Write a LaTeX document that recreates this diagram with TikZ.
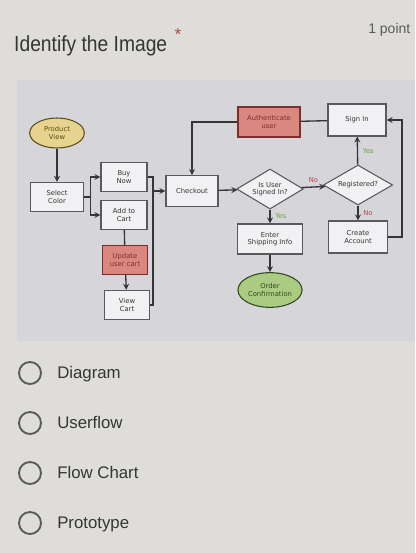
\documentclass[tikz,border=0pt]{standalone}
\usepackage{fontspec}
\setmainfont{Liberation Sans}
\newfontfamily\chartfont{DejaVu Sans}
\usetikzlibrary{positioning, shapes.geometric}

\definecolor{pagegray}{HTML}{DEDDDA}
\definecolor{shotgray}{HTML}{D6D5D9}
\definecolor{inkgray}{HTML}{353535}
\definecolor{pointgray}{HTML}{5A5A5A}
\definecolor{startfill}{HTML}{E6D48E}
\definecolor{startink}{HTML}{5E4C1E}
\definecolor{redfill}{HTML}{D9877F}
\definecolor{redink}{HTML}{7E2E2A}
\definecolor{endfill}{HTML}{A9CC82}
\definecolor{endink}{HTML}{2F4A1E}
\definecolor{yesgreen}{HTML}{6AA23C}
\definecolor{nored}{HTML}{B24A44}

\begin{document}
\begin{tikzpicture}[x=0.75pt, y=-0.75pt, >=stealth,
  chart/.style={font=\chartfont\fontsize{5.1}{5.6}\selectfont, align=center, inner sep=0.5pt},
  flowbox/.style={chart, draw=pointgray, line width=0.8pt, fill=white!65!shotgray, text=inkgray},
  flowred/.style={flowbox, fill=redfill, draw=redink, text=redink},
  flowask/.style={flowbox, diamond, aspect=1.7, inner sep=0pt},
  flowstart/.style={chart, ellipse, draw=startink, line width=0.8pt, fill=startfill, text=startink},
  flowend/.style={chart, ellipse, draw=endink, line width=0.8pt, fill=endfill, text=endink},
  flowline/.style={draw=inkgray, line width=1pt},
  yeslabel/.style={chart, text=yesgreen},
  nolabel/.style={chart, text=nored},
  radio/.style={circle, draw=pointgray, line width=1.4pt, minimum size=16.5pt, inner sep=0pt},
  optlabel/.style={anchor=base west, inner sep=0pt, text=inkgray, font=\fontsize{12.6}{14}\selectfont}]

\useasboundingbox (0,0) rectangle (415,553);
\fill [pagegray] (0,0) rectangle (415,553);
\fill [shotgray] (17,80) rectangle (415,341);

%% question header
\node [anchor=base west, inner sep=0pt, text=inkgray, xscale=0.88, transform shape,
  font=\fontsize{16.4}{19}\selectfont] (head) at (14,51) {Identify the Image};
\node [inner sep=0pt, text=nored, font=\fontsize{13}{13}\selectfont] (star) at (178,35) {*};
\node [anchor=base west, inner sep=0pt, text=pointgray, font=\fontsize{10.5}{12}\selectfont]
  (point) at (368,33) {1 point};

%% flow chart
\node [flowstart, minimum width=41pt, minimum height=22.5pt] (pv) at (57,133) {Product\\View};
\node [flowbox, minimum width=40pt, minimum height=22pt] (sel) at (57,197) {Select\\Color};
\node [flowbox, minimum width=34.5pt, minimum height=22pt] (buy) at (124,177) {Buy\\Now};
\node [flowbox, minimum width=34.5pt, minimum height=22pt] (add) at (124,215) {Add to\\Cart};
\node [flowred, minimum width=34pt, minimum height=22pt] (upd) at (125,260) {Update\\user cart};
\node [flowbox, minimum width=34pt, minimum height=22pt] (view) at (127,305) {View\\Cart};
\node [flowbox, minimum width=39pt, minimum height=23pt] (chk) at (192,191) {Checkout};
\node [flowask, minimum width=50pt, minimum height=30pt] (signed) at (270,189) {Is User\\Signed In?};
\node [flowask, minimum width=52pt, minimum height=30pt] (reg) at (358,185) {Registered?};
\node [flowred, minimum width=46.5pt, minimum height=22.5pt] (auth) at (269,122) {Authenticate\\user};
\node [flowbox, minimum width=43.5pt, minimum height=24pt] (signin) at (357,120) {Sign In};
\node [flowbox, minimum width=49pt, minimum height=22.5pt] (ship) at (270,239) {Enter\\Shipping Info};
\node [flowend, minimum width=47pt, minimum height=26pt] (conf) at (270,290) {Order\\Confirmation};
\node [flowbox, minimum width=44pt, minimum height=24pt] (acct) at (358,237) {Create\\Account};

\coordinate (jn) at (153,191);

\draw [flowline, ->] (pv) -- (sel);
\foreach \b in {buy, add}
  \draw [flowline, ->] (sel.east) -- ++(6,0) |- (\b.west);
\draw [flowline] (add) -- (upd);
\draw [flowline, ->] (upd) -- (view);
\foreach \b in {buy, view}
  \draw [flowline] (\b.east) -| (jn);
\draw [flowline, ->] (jn) -- (chk.west);
\draw [flowline, ->] (chk) -- (signed);
\draw [flowline, ->] (signed) -- (reg)
    node [nolabel, above, midway, yshift=2pt] {No};
\draw [flowline, ->] (reg) -- (signin)
    node [yeslabel, right, midway, xshift=3pt] {Yes};
\draw [flowline, ->] (reg) -- (acct)
    node [nolabel, right, midway, xshift=3pt] {No};
\draw [flowline, ->] (acct.east) -- ++(14,0) |- (signin.east);
\draw [flowline] (signin) -- (auth);
\draw [flowline, ->] (auth.west) -| (chk.north);
\draw [flowline, ->] (signed) -- (ship)
    node [yeslabel, right, midway, xshift=3pt] {Yes};
\draw [flowline, ->] (ship) -- (conf);

%% answer options
\foreach \t [count=\i] in {Diagram, Userflow, Flow Chart, Prototype} {
  \node [radio] (opt-\i) at (30,373+50*\i-50) {};
  \node [optlabel] (optlabel-\i) at (57,378+50*\i-50) {\t};
}

\end{tikzpicture}
\end{document}
